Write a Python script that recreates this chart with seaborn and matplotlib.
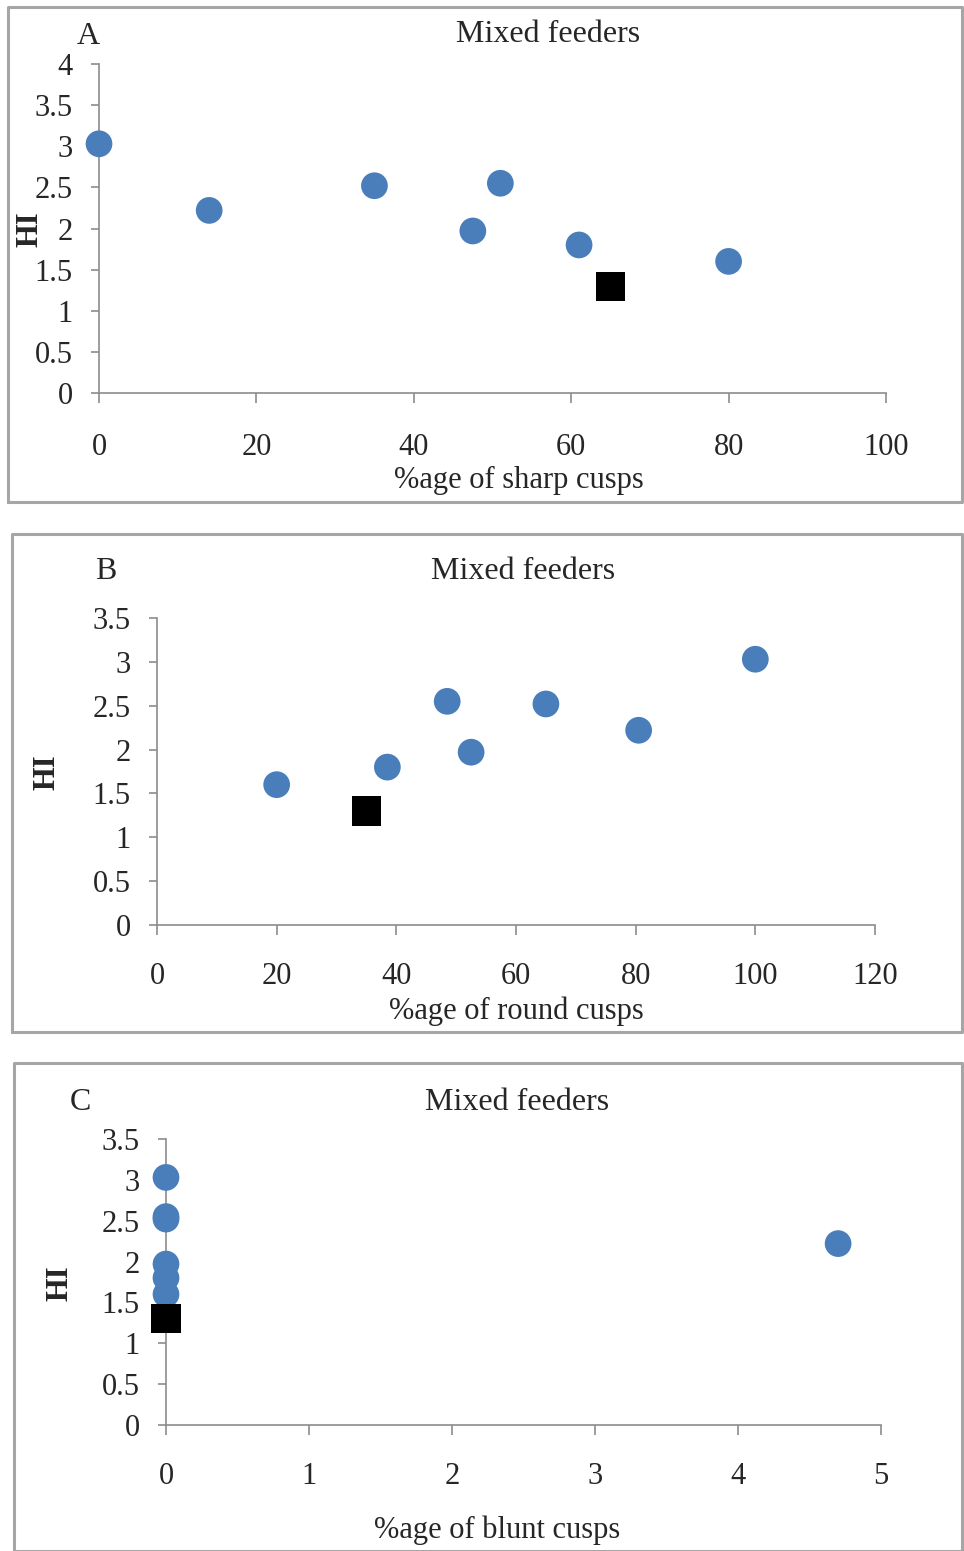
import matplotlib
matplotlib.use("Agg")
import matplotlib.pyplot as plt
import seaborn as sns
import pandas as pd
from matplotlib.lines import Line2D
from matplotlib.ticker import FuncFormatter, MultipleLocator

# data (one value per species)
hi = [3.03, 2.22, 2.52, 1.97, 2.55, 1.80, 1.60]
sharp = [0, 14, 35, 47.5, 51, 61, 80]
round_c = [100, 80.5, 65, 52.5, 48.5, 38.5, 20]
blunt = [0, 4.7, 0, 0, 0, 0, 0]

# the black square
sq_hi = [1.30]
sq_sharp = [65]
sq_round = [35]
sq_blunt = [0]

df = pd.DataFrame({"HI": hi, "sharp": sharp, "round": round_c, "blunt": blunt})
sq = pd.DataFrame({"HI": sq_hi, "sharp": sq_sharp, "round": sq_round, "blunt": sq_blunt})

sns.set_style("white")
plt.rcParams["font.family"] = ["Liberation Serif", "DejaVu Serif"]

W, H = 964, 1551
fig = plt.figure(figsize=(W / 100, H / 100), dpi=100)


def fx(x):
    return x / W


def fy(y):
    return 1 - y / H


def box(l, t, r, b):
    # axes box from pixel edges
    return [fx(l), fy(b), fx(r) - fx(l), fy(t) - fy(b)]


panels = [
    dict(col="sharp", letter="A", xlabel="%age of sharp cusps", rect=box(99, 64, 886, 393),
         xmax=100, xstep=20, ymax=4, xpad=22,
         let=(88, 36), tit=(548, 35), xl=(519, 480), yl=(30, 229)),
    dict(col="round", letter="B", xlabel="%age of round cusps", rect=box(157, 618, 875, 925),
         xmax=120, xstep=20, ymax=3.5, xpad=20,
         let=(106, 571), tit=(523, 571), xl=(516, 1011), yl=(47, 772)),
    dict(col="blunt", letter="C", xlabel="%age of blunt cusps", rect=box(166, 1139, 881, 1425),
         xmax=5, xstep=1, ymax=3.5, xpad=20,
         let=(80, 1103), tit=(517, 1103), xl=(497, 1530), yl=(60, 1283)),
]

axis_col = "#8c8c8c"
fmt = FuncFormatter(lambda v, p: "%g" % v)

for p in panels:
    ax = fig.add_axes(p["rect"])
    sns.scatterplot(data=df, x=p["col"], y="HI", ax=ax, color="#4a7ebb", s=370,
                    marker="o", edgecolor="none", clip_on=False, zorder=3)
    sns.scatterplot(data=sq, x=p["col"], y="HI", ax=ax, color="black", s=440,
                    marker="s", edgecolor="none", clip_on=False, zorder=4)
    ax.set_xlim(0, p["xmax"])
    ax.set_ylim(0, p["ymax"])
    ax.xaxis.set_major_locator(MultipleLocator(p["xstep"]))
    ax.yaxis.set_major_locator(MultipleLocator(0.5))
    ax.xaxis.set_major_formatter(fmt)
    ax.yaxis.set_major_formatter(fmt)
    for s in ["top", "right"]:
        ax.spines[s].set_visible(False)
    for s in ["left", "bottom"]:
        ax.spines[s].set_color(axis_col)
        ax.spines[s].set_linewidth(1.2)
    ax.tick_params(axis="x", direction="out", length=7, width=1.2, color=axis_col,
                   pad=p["xpad"], labelsize=22, bottom=True)
    ax.tick_params(axis="y", direction="out", length=6, width=1.2, color=axis_col,
                   pad=13, labelsize=22, left=True)

    ax.set_xlabel(p["xlabel"], fontsize=22)
    ax.xaxis.set_label_coords(fx(p["xl"][0]), fy(p["xl"][1]), transform=fig.transFigure)
    ax.xaxis.label.set_va("center")
    ax.set_ylabel("HI", fontsize=22, fontweight="bold")
    ax.yaxis.set_label_coords(fx(p["yl"][0]), fy(p["yl"][1]), transform=fig.transFigure)
    ax.yaxis.label.set_va("center")
    ax.yaxis.label.set_ha("center")

    ax.text(fx(p["let"][0]), fy(p["let"][1]), p["letter"], transform=fig.transFigure,
            ha="center", va="center", fontsize=23)
    ax.text(fx(p["tit"][0]), fy(p["tit"][1]), "Mixed feeders", transform=fig.transFigure,
            ha="center", va="center", fontsize=23)

# grey frames round each panel
frame_col = "#a6a6a6"
for l, t, r, b in [(8, 7, 962, 502), (12, 534, 962, 1032), (14, 1063, 962, 1551)]:
    xs = [fx(l), fx(l), fx(r), fx(r), fx(l)]
    ys = [fy(b), fy(t), fy(t), fy(b), fy(b)]
    fig.add_artist(Line2D(xs, ys, color=frame_col, lw=2.2, transform=fig.transFigure))

fig.savefig("out.png", dpi=100)
